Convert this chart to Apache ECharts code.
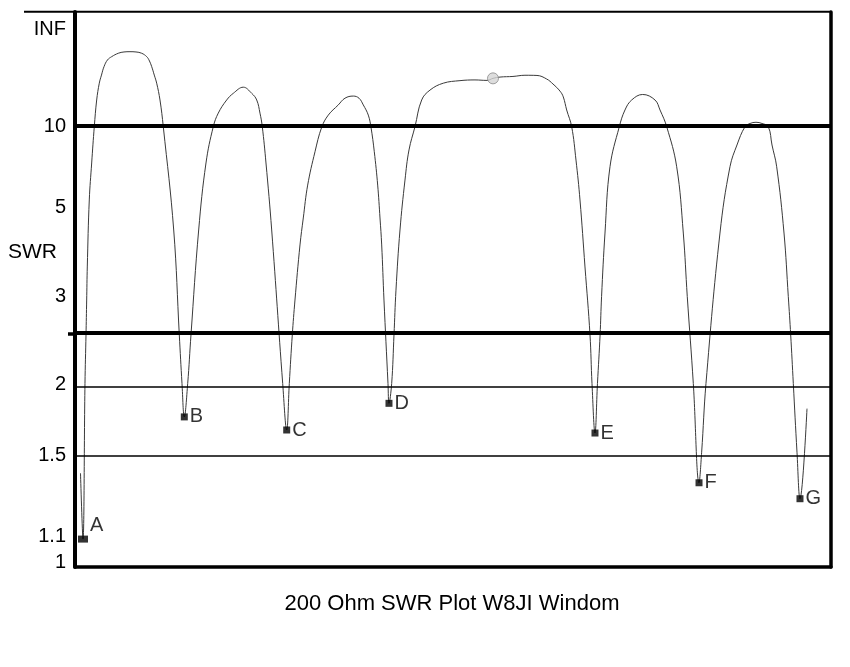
<!DOCTYPE html>
<html><head><meta charset="utf-8">
<script src="https://cdn.jsdelivr.net/npm/echarts@6/dist/echarts.min.js"></script>
<style>html,body{margin:0;padding:0;background:#fff}#c{width:850px;height:667px}</style>
</head><body><div id="c"></div>
<script>
// Frequency (MHz, approximate) and SWR
const freqMHz = [
  3.415,3.50,3.568,3.603,3.626,3.647,3.715,3.797,3.886,3.968,4.057,4.132,4.218,4.337,4.481,4.706,4.901,5.106,5.311,5.506,5.677,5.772,5.848,5.936,6.018,6.131,6.244,6.60,6.791,6.883,6.962,
  7.078,7.190,7.453,7.703,7.952,8.123,8.41,8.636,8.978,9.265,9.436,9.548,9.627,9.753,9.948,10.324,10.461,
  10.55,10.652,10.744,10.915,11.028,11.178,11.428,11.657,11.882,12.224,12.453,12.736,12.931,13.078,13.249,13.341,13.454,13.57,13.649,13.707,13.785,13.922,13.956,
  14.048,14.127,14.195,14.332,14.503,14.64,14.844,15.073,15.357,15.811,16.382,16.895,17.305,17.51,17.749,18.193,18.603,19.013,19.345,19.56,19.80,19.912,20.028,20.199,20.346,20.483,20.654,20.825,20.893,20.995,
  21.08,21.17,21.22,21.337,21.508,21.826,22.02,22.249,22.625,23.046,23.217,23.446,23.787,24.013,24.149,24.355,24.55,
  24.64,24.788,25.266,25.608,25.847,26.121,26.292,26.497,26.702,26.917,27.044,27.204,27.454,27.601,27.683,27.772,27.898,28.0,28.24];
const swr = [
  1.40,1.09,2.01,2.49,2.94,3.49,5.26,7.0,10.0,14.2,19.0,22.6,28.0,34.5,38.9,44.7,47.4,48.0,47.4,44.7,38.9,33.3,28.0,22.6,19.0,14.2,10.0,4.32,2.49,2.01,1.75,
  2.01,2.49,4.32,7.0,10.0,11.8,14.2,15.8,17.6,15.8,14.2,11.8,10.0,7.0,4.32,2.01,1.66,
  2.01,2.49,2.94,3.95,4.66,5.86,7.74,9.94,11.5,13.2,14.6,15.1,14.6,13.2,11.5,9.94,7.74,5.86,4.66,3.95,2.94,2.01,1.85,
  2.01,2.49,3.09,4.32,6.09,7.87,10.0,14.2,16.7,19.0,20.0,20.3,20.1,21.0,21.6,21.9,22.5,22.4,20.7,18.7,16.4,14.9,12.3,10.0,7.18,5.26,3.49,2.49,2.01,1.64,
  2.01,2.49,2.99,4.24,6.78,10.0,12.3,14.2,15.5,14.2,12.3,10.0,6.78,4.24,2.99,2.01,1.35,
  1.52,2.01,4.24,6.78,8.25,10.0,10.38,10.53,10.38,10.0,8.25,6.78,4.24,2.99,2.49,2.01,1.52,1.27,1.81];

const markerNames = ['A','B','C','D','E','F','G'];
const markerFreq = [3.50,6.962,10.461,13.956,20.995,24.55,28.00];
const markerSwr = [1.09,1.75,1.66,1.85,1.64,1.35,1.27];

const sourceFreq = [17.51];
const sourceSwr = [21.0];

const tickSwr = [1, 1.1, 1.5, 2, 3, 5, 10, Infinity];
const tickText = ['1','1.1','1.5','2','3','5','10','INF'];
const thickLineSwr = [10, 2.5];
const thinLineSwr = [2, 1.5];
const xRange = [3.227, 29.06];
const titleText = '200 Ohm SWR Plot W8JI Windom';
const axisName = 'SWR';

// SWR -> reflection coefficient (the plot's vertical scale)
function rho(s){ return s === Infinity ? 1 : (s - 1) / (s + 1); }

const FONT = "'Liberation Sans', Arial, sans-serif";
const tickRho = tickSwr.map(rho);
const yMin = -0.0094, yMax = 1.0338;

const lineData = freqMHz.map((f, i) => [f, rho(swr[i])]);
const markerData = markerFreq.map((f, i) => {
  const d = { value: [f, rho(markerSwr[i])], name: markerNames[i] };
  if (i === 0) { d.symbolSize = [10, 7]; d.label = { offset: [0, -14] }; }
  return d;
});
const sourceData = sourceFreq.map((f, i) => [f, rho(sourceSwr[i])]);

const chart = echarts.init(document.getElementById('c'), null, { renderer: 'canvas' });
chart.setOption({
  animation: false,
  backgroundColor: '#fff',
  title: {
    text: titleText, left: 447, top: 588, textAlign: 'center',
    textStyle: { fontSize: 22, fontWeight: 'normal', fontFamily: FONT, color: '#000' }
  },
  graphic: [
    { type: 'line', shape: { x1: 24, y1: 11.7, x2: 831, y2: 11.7 }, style: { stroke: '#000', lineWidth: 2 }, z: 10 },
    { type: 'text', left: 8, top: 242, style: { text: axisName, font: '21px ' + FONT, fill: '#000' } }
  ],
  grid: { left: 75, right: 19, top: 12, bottom: 100 },
  xAxis: {
    type: 'value', min: xRange[0], max: xRange[1],
    axisLine: { show: true, onZero: false, lineStyle: { color: '#000', width: 3.5 } },
    axisTick: { show: false }, axisLabel: { show: false }, splitLine: { show: false }
  },
  yAxis: [{
    type: 'value', min: yMin, max: yMax, position: 'left',
    axisLine: { show: true, onZero: false, lineStyle: { color: '#000', width: 4 } },
    axisTick: { show: true, customValues: [rho(2.5)], length: 7, inside: false, lineStyle: { color: '#000', width: 3.5 } },
    axisLabel: {
      show: true, customValues: tickRho, margin: 9, color: '#000', fontSize: 20, fontFamily: FONT,
      formatter: function (v) {
        let best = 0, bd = 1e9;
        tickRho.forEach((r, i) => { const d = Math.abs(r - v); if (d < bd) { bd = d; best = i; } });
        return tickText[best];
      }
    },
    splitLine: { show: false }
  }, {
    type: 'value', min: yMin, max: yMax, position: 'right',
    axisLine: { show: true, onZero: false, lineStyle: { color: '#000', width: 3.5 } },
    axisTick: { show: false }, axisLabel: { show: false }, splitLine: { show: false }
  }],
  series: [{
    type: 'line', data: lineData, showSymbol: false, smooth: 0.4,
    lineStyle: { color: '#3a3a3a', width: 1 }, z: 3,
    markLine: {
      silent: true, symbol: 'none', label: { show: false },
      data: thickLineSwr.map(s => ({ yAxis: rho(s), lineStyle: { color: '#000', width: 4, type: 'solid' } }))
        .concat(thinLineSwr.map(s => ({ yAxis: rho(s), lineStyle: { color: '#000', width: 1.6, type: 'solid' } })))
    }
  }, {
    type: 'scatter', data: markerData, symbol: 'rect', symbolSize: 7,
    itemStyle: { color: '#000' }, z: 5,
    label: { show: true, position: 'right', distance: 2, formatter: p => p.name, fontSize: 20, fontFamily: FONT, color: '#000' }
  }, {
    type: 'scatter', data: sourceData, symbol: 'circle', symbolSize: 11,
    itemStyle: { color: '#d4d4d4', borderColor: '#8a8a8a', borderWidth: 1 }, z: 6
  }]
});
</script>
</body></html>
